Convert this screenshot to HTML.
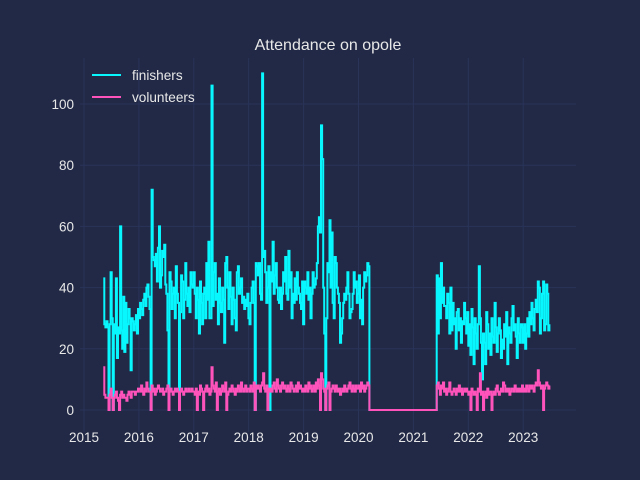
<!DOCTYPE html>
<html><head><meta charset="utf-8"><style>
body{margin:0;background:#212946;}
svg{display:block;font-family:"Liberation Sans",sans-serif;}
</style></head><body>
<svg id="c" width="640" height="480">
<rect width="640" height="480" fill="#212946"/>
<g id="grid"></g><g id="series"></g><g id="axes"></g>
<text x="328" y="50" fill="#e8e8e8" font-size="16" text-anchor="middle">Attendance on opole</text>
<g>
<line x1="92" y1="75" x2="121" y2="75" stroke="#08F7FE" stroke-width="2"/>
<text x="132" y="80" fill="#e8e8e8" font-size="13.6">finishers</text>
<line x1="92" y1="97" x2="121" y2="97" stroke="#FE53BB" stroke-width="2"/>
<text x="132" y="102" fill="#e8e8e8" font-size="13.6">volunteers</text>
</g>
</svg>
<script>
const preStart="2015-05-09";
const postStart="2021-06-05";
const preFinishers=[43,28,27,29,27,0,28,45,30,0,28,25,43,17,27,25,60,26,20,37,19,35,22,28,33,30,13,30,29,26,28,31,25,33,
30,35,33,31,36,38,34,40,41,37,33,0,72,50,49,47,51,42,53,60,40,44,52,50,54,41,38,26,0,45,42,33,38,40,30,47,38,35,0,32,44,42,30,36,48,38,34,40,32,45,41,40,
45,38,30,40,36,25,42,35,28,38,40,30,48,36,55,30,30,106,34,45,48,36,38,28,43,35,32,40,36,22,48,50,40,33,45,37,28,40,36,30,26,45,47,38,40,43,35,37,33,36,34,38,
30,28,35,40,42,35,0,48,47,44,48,38,36,110,50,52,45,35,40,47,0,45,42,55,38,44,48,40,36,35,40,33,38,45,42,50,38,36,52,40,45,30,38,35,43,36,45,40,38,35,33,42,
28,42,40,38,45,36,40,30,38,45,40,41,43,48,60,63,58,93,82,40,25,0,30,48,45,62,40,58,35,30,50,48,40,38,35,22,25,30,35,38,36,40,45,38,30,32,33,38,45,40,42,35,
38,44,30,36,28,40,45,42,44,48,47];
const preVolunteers=[14,5,4,4,4,0,5,7,4,0,4,5,6,4,3,0,5,6,4,5,4,4,3,5,6,5,4,6,6,6,5,6,6,7,
7,6,8,6,5,7,6,9,7,6,6,0,8,6,7,5,6,7,8,7,6,6,7,5,6,6,7,8,0,6,7,6,5,6,7,6,7,6,0,6,7,6,5,6,7,6,6,7,6,6,7,6,
6,5,7,0,6,5,8,7,6,0,6,7,8,6,7,5,6,14,8,7,6,9,0,6,7,5,6,8,7,6,9,0,5,6,7,6,8,7,6,5,7,6,8,7,6,9,7,6,7,8,6,7,
7,6,8,7,6,9,0,8,7,8,7,6,8,9,12,7,6,8,0,7,6,7,6,8,9,7,6,10,8,7,6,8,9,7,8,7,6,8,7,6,9,8,7,6,7,8,6,9,7,8,7,6,
7,6,8,7,6,9,7,8,6,7,8,6,9,7,10,8,0,12,10,7,6,0,7,8,9,0,6,7,8,7,6,8,7,6,7,5,6,7,6,8,7,6,7,8,9,7,6,8,7,6,8,7,
7,8,6,9,7,8,6,7,8,9,8];
const postFinishers=[44,25,43,30,48,35,40,34,34,30,38,35,25,40,26,35,28,30,20,32,33,26,30,22,29,28,35,30,25,32,
21,28,18,33,27,15,30,25,20,28,47,30,22,10,25,22,15,32,28,20,25,18,30,24,22,35,27,19,25,30,26,17,23,20,28,24,32,15,27,25,22,30,34,26,28,24,17,30,25,22,28,27,
22,28,20,25,30,24,32,28,35,30,26,33,36,32,42,40,25,30,38,42,26,28,41,38,26,28];
const postVolunteers=[8,9,7,5,8,7,9,6,7,5,6,7,9,6,5,6,7,6,5,7,6,8,6,7,5,6,7,6,7,6,
5,6,0,7,6,5,6,5,0,7,6,12,5,6,0,5,6,4,7,5,6,6,0,5,6,5,7,8,6,5,6,7,6,9,8,6,7,6,7,5,6,7,7,6,8,7,6,7,6,7,6,8,
6,7,6,8,7,6,8,7,8,7,6,8,9,8,13,9,8,7,8,0,7,8,9,8,7,8];
const yTicks=[0,20,40,60,80,100];
const xTicks=[2015,2016,2017,2018,2019,2020,2021,2022,2023];

const L=80,R=576,T=58,B=432;
function xs(yr){return 84+(yr-2015)*54.9;}
function ys(v){return 410-v*3.06;}
function yearOf(d){const y=d.getUTCFullYear();const s=Date.UTC(y,0,1),e=Date.UTC(y+1,0,1);return y+(d-s)/(e-s);}
function build(pre,post){
  const pts=[];const d0=new Date(preStart+"T00:00:00Z");
  pre.forEach((v,i)=>pts.push([yearOf(new Date(d0.getTime()+i*7*864e5)),v]));
  const lastPre=new Date(d0.getTime()+pre.length*7*864e5);
  const p0=new Date(postStart+"T00:00:00Z");
  pts.push([yearOf(lastPre),0]);
  pts.push([yearOf(new Date(p0.getTime()-7*864e5)),0]);
  post.forEach((v,i)=>pts.push([yearOf(new Date(p0.getTime()+i*7*864e5)),v]));
  return pts;
}
function stepPath(pts){
  let d="M"+xs(pts[0][0]).toFixed(1)+","+ys(pts[0][1]).toFixed(1);
  for(let i=1;i<pts.length;i++){d+="H"+xs(pts[i][0]).toFixed(1)+"V"+ys(pts[i][1]).toFixed(1);}
  return d;
}
const NS="http://www.w3.org/2000/svg";
const grid=document.getElementById("grid"),axes=document.getElementById("axes"),ser=document.getElementById("series");
yTicks.forEach(t=>{
  const l=document.createElementNS(NS,"line");
  
  
  l.setAttribute("x1",L);l.setAttribute("x2",R);l.setAttribute("y1",ys(t));l.setAttribute("y2",ys(t));
  l.setAttribute("stroke","#2A3459");grid.appendChild(l);
  const tx=document.createElementNS(NS,"text");
  
  
  tx.setAttribute("x",L-6);tx.setAttribute("y",ys(t)+5);tx.setAttribute("text-anchor","end");
  tx.setAttribute("fill","#e8e8e8");tx.setAttribute("font-size","13.5");tx.textContent=t;axes.appendChild(tx);
});
xTicks.forEach(t=>{
  const l=document.createElementNS(NS,"line");
  
  
  l.setAttribute("y1",T);l.setAttribute("y2",B);l.setAttribute("x1",xs(t));l.setAttribute("x2",xs(t));
  l.setAttribute("stroke","#2A3459");grid.appendChild(l);
  const tx=document.createElementNS(NS,"text");
  
  
  tx.setAttribute("x",xs(t));tx.setAttribute("y",B+10);tx.setAttribute("text-anchor","middle");
  tx.setAttribute("fill","#e8e8e8");tx.setAttribute("font-size","13.5");tx.textContent=t;axes.appendChild(tx);
});
const fp=document.createElementNS(NS,"path");


fp.setAttribute("d",stepPath(build(preFinishers,postFinishers)));
fp.setAttribute("fill","none");fp.setAttribute("stroke","#08F7FE");fp.setAttribute("stroke-width","2");
ser.appendChild(fp);
const vp=document.createElementNS(NS,"path");


vp.setAttribute("d",stepPath(build(preVolunteers,postVolunteers)));
vp.setAttribute("fill","none");vp.setAttribute("stroke","#FE53BB");vp.setAttribute("stroke-width","2");
ser.appendChild(vp);
</script>
</body></html>
